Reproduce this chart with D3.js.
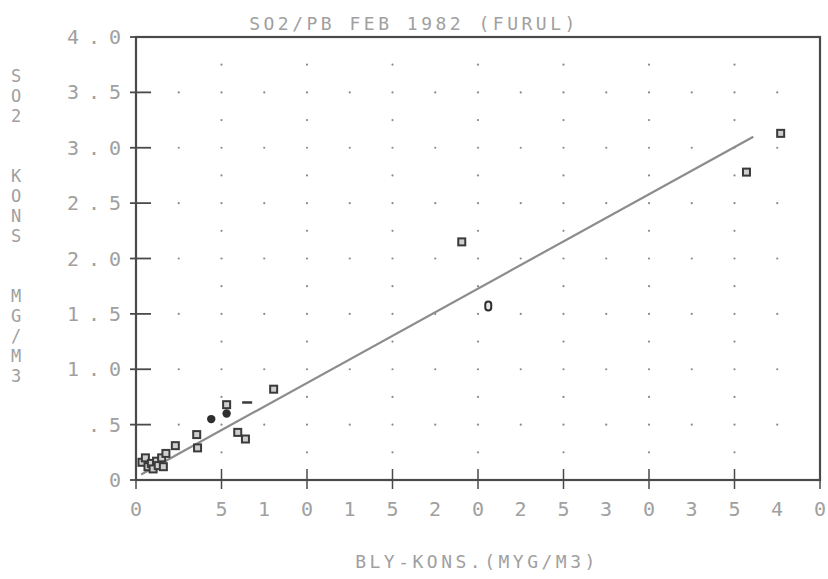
<!DOCTYPE html>
<html><head><meta charset="utf-8">
<script src="https://cdn.jsdelivr.net/npm/d3@7"></script>
<style>body{margin:0;background:#fff}</style>
</head><body>
<svg id="c" width="828" height="579"></svg>
<script>
const title = "SO2/PB FEB 1982 (FURUL)";
const xTitle = "BLY-KONS.(MYG/M3)";
const yTitle = "SO2  KONS  MG/M3";
const xTicks = [0,5,10,15,20,25,30,35,40];
const xTickLabels = ["0","5","10","15","20","25","30","35","40"];
const yTicks = [0,0.5,1,1.5,2,2.5,3,3.5,4];
const yTickLabels = ["0",".5","1.0","1.5","2.0","2.5","3.0","3.5","4.0"];
const ptX = [0.35,0.55,0.7,0.9,1.0,1.2,1.3,1.5,1.6,1.75,2.3,3.55,3.6,4.4,5.3,5.3,5.95,6.4,6.5,8.05,19.05,20.6,35.7,37.7];
const ptY = [0.16,0.2,0.12,0.15,0.1,0.17,0.13,0.2,0.12,0.24,0.31,0.41,0.29,0.55,0.68,0.6,0.43,0.37,0.7,0.82,2.15,1.57,2.78,3.13];
const ptType = ["sq","sq","sq","sq","sq","sq","sq","sq","sq","sq","sq","sq","sq","fill","sq","fill","sq","sq","dash","sq","sq","o","sq","sq"];
const fitX = [0.3, 36.1];
const fitY = [0.05, 3.10];

const svg = d3.select("#c");
const x = d3.scaleLinear().domain([0,40]).range([136,820]);
const y = d3.scaleLinear().domain([0,4]).range([480,37]);
const txt = "#a0a0a0", ink = "#4a4a4a";
const font = "'DejaVu Sans Mono', monospace";

// dot grid
const dots = [];
for (let i=1;i<16;i++) for (let j=1;j<8;j++) dots.push([i*2.5, j*0.5]);
for (let i=1;i<8;i++) for (let j=0;j<8;j++) dots.push([i*5, j*0.5+0.25]);
svg.append("g").selectAll("circle").data(dots).join("circle")
  .attr("cx",d=>x(d[0])).attr("cy",d=>y(d[1])).attr("r",1.1).attr("fill","#8a8a8a");

// frame
svg.append("rect").attr("x",x(0)).attr("y",y(4)).attr("width",x(40)-x(0)).attr("height",y(0)-y(4))
  .attr("fill","none").attr("stroke",ink).attr("stroke-width",2.2);

// ticks
svg.append("g").selectAll("line").data(yTicks).join("line")
  .attr("x1",x(0)-6).attr("x2",x(0)+15).attr("y1",d=>y(d)).attr("y2",d=>y(d))
  .attr("stroke",ink).attr("stroke-width",1.8);
svg.append("g").selectAll("line").data(xTicks).join("line")
  .attr("x1",d=>x(d)).attr("x2",d=>x(d)).attr("y1",y(0)-11).attr("y2",y(0)+9)
  .attr("stroke",ink).attr("stroke-width",1.5);

// tick labels (plotter style, one char at a time)
yTicks.forEach((v,k)=>{
  const s = yTickLabels[k];
  [...s].forEach((ch,i)=>{
    svg.append("text").attr("x",115-(s.length-1-i)*21).attr("y",y(v)+7)
      .attr("text-anchor","middle").attr("font-family",font).attr("font-size",20)
      .attr("fill",txt).text(ch);
  });
});
xTicks.forEach((v,k)=>{
  const s = xTickLabels[k];
  [...s].forEach((ch,i)=>{
    svg.append("text").attr("x",x(v)-(s.length-1-i)*43).attr("y",516)
      .attr("text-anchor","middle").attr("font-family",font).attr("font-size",20)
      .attr("fill",txt).text(ch);
  });
});

// titles
svg.append("text").attr("x",414).attr("y",30).attr("text-anchor","middle")
  .attr("font-family",font).attr("font-size",18).attr("letter-spacing",3.5)
  .attr("fill",txt).text(title);
svg.append("text").attr("x",477).attr("y",568).attr("text-anchor","middle")
  .attr("font-family",font).attr("font-size",18).attr("letter-spacing",3.5)
  .attr("fill",txt).text(xTitle);
[...yTitle].forEach((ch,i)=>{
  svg.append("text").attr("x",16).attr("y",82+i*20).attr("text-anchor","middle")
    .attr("font-family",font).attr("font-size",17).attr("fill",txt).text(ch);
});

// regression line
svg.append("line").attr("x1",x(fitX[0])).attr("y1",y(fitY[0])).attr("x2",x(fitX[1])).attr("y2",y(fitY[1]))
  .attr("stroke","#8c8c8c").attr("stroke-width",2.2);

// points
const pts = ptX.map((v,i)=>({x:v,y:ptY[i],t:ptType[i]}));
const g = svg.append("g");
pts.forEach(p=>{
  const cx = x(p.x), cy = y(p.y);
  if (p.t==="sq") g.append("rect").attr("x",cx-3.5).attr("y",cy-3.5).attr("width",7).attr("height",7)
      .attr("fill","#cfcfcf").attr("stroke","#3a3a3a").attr("stroke-width",2);
  else if (p.t==="fill") g.append("circle").attr("cx",cx).attr("cy",cy).attr("r",4.2).attr("fill","#2e2e2e");
  else if (p.t==="dash") g.append("line").attr("x1",cx-5).attr("x2",cx+5).attr("y1",cy).attr("y2",cy)
      .attr("stroke","#3a3a3a").attr("stroke-width",2.5);
  else g.append("rect").attr("x",cx-3).attr("y",cy-4.5).attr("width",6).attr("height",9).attr("rx",3)
      .attr("fill","#e6e6e6").attr("stroke","#2e2e2e").attr("stroke-width",2);
});
</script>
</body></html>
